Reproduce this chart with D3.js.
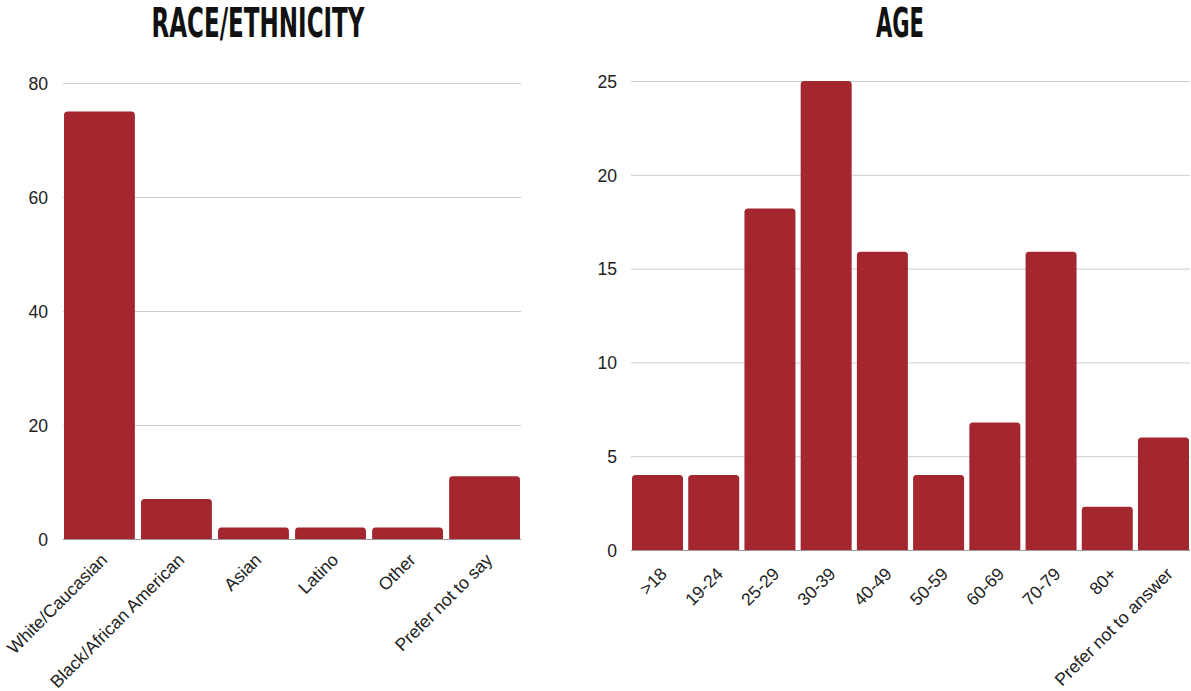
<!DOCTYPE html>
<html><head><meta charset="utf-8">
<script src="https://cdn.jsdelivr.net/npm/d3@7"></script>
<style>body{margin:0;background:#fff}svg{display:block}</style>
</head><body>
<script>
const raceCategories = ["White/Caucasian","Black/African American","Asian","Latino","Other","Prefer not to say"];
const raceValues = [75, 7, 2, 2, 2, 11];
const raceTicks = [0, 20, 40, 60, 80];

const ageCategories = [">18","19-24","25-29","30-39","40-49","50-59","60-69","70-79","80+","Prefer not to answer"];
const ageValues = [4, 4, 18.2, 25, 15.9, 4, 6.8, 15.9, 2.3, 6];
const ageTicks = [0, 5, 10, 15, 20, 25];

const W = 1191, H = 691;
const svg = d3.select("body").append("svg").attr("width", W).attr("height", H);
const barColor = "#a4262f";
const FS = 17.6;

function topRounded(x, y, w, h, r) {
  r = Math.min(r, h, w / 2);
  return `M${x},${y + h}V${y + r}Q${x},${y} ${x + r},${y}H${x + w - r}Q${x + w},${y} ${x + w},${y + r}V${y + h}Z`;
}

function chart(opts) {
  const g = svg.append("g");
  const x = d3.scaleBand().domain(opts.cats).range(opts.xr).paddingInner(opts.pad).paddingOuter(0);
  const y = d3.scaleLinear().domain([0, opts.max]).range(opts.yr);
  g.selectAll(".grid").data(opts.ticks.filter(t => t !== 0)).join("line")
    .attr("x1", opts.gx[0]).attr("x2", opts.gx[1])
    .attr("y1", d => y(d) + 0.5).attr("y2", d => y(d) + 0.5)
    .attr("stroke", "#cccccc").attr("stroke-width", 1);
  const yAxis = d3.axisLeft(y).tickValues(opts.ticks).tickSize(0).tickPadding(0);
  const ya = g.append("g").attr("transform", `translate(${opts.ylx},0)`).call(yAxis);
  ya.select(".domain").remove();
  ya.selectAll("text").attr("font-family", "Liberation Sans, Arial, sans-serif")
    .attr("font-size", FS).attr("fill", "#222").attr("dy", "0.36em");
  g.selectAll(".bar").data(opts.vals).join("path")
    .attr("fill", barColor)
    .attr("d", (d, i) => topRounded(x(opts.cats[i]), y(d), x.bandwidth(), y(0) - y(d), 3.5));
  g.append("line").attr("x1", opts.gx[0]).attr("x2", opts.gx[1])
    .attr("y1", y(0) + 0.5).attr("y2", y(0) + 0.5).attr("stroke", "#999").attr("stroke-width", 1);
  const xAxis = d3.axisBottom(x).tickSize(0).tickPadding(0);
  const xa = g.append("g").attr("transform", `translate(0,${y(0)})`).call(xAxis);
  xa.select(".domain").remove();
  xa.selectAll("text")
    .attr("font-family", "Liberation Sans, Arial, sans-serif")
    .attr("font-size", FS).attr("fill", "#222")
    .attr("text-anchor", "end").attr("dy", null).attr("y", null)
    .attr("transform", `translate(${opts.lx},${opts.ly}) rotate(-45)`);
  svg.append("text").text(opts.title)
    .attr("x", opts.tx).attr("y", 37).attr("text-anchor", "middle")
    .attr("font-family", "Liberation Sans Narrow, DejaVu Sans Condensed, sans-serif")
    .attr("font-weight", "bold").attr("font-size", 41).attr("fill", "#111")
    .attr("textLength", opts.tw).attr("lengthAdjust", "spacingAndGlyphs");
}

chart({cats: raceCategories, vals: raceValues, ticks: raceTicks, max: 80,
  xr: [64, 520], pad: 0.08, yr: [539, 83], gx: [63, 521], ylx: 48,
  lx: 9, ly: 22, title: "RACE/ETHNICITY", tx: 258, tw: 213});

chart({cats: ageCategories, vals: ageValues, ticks: ageTicks, max: 25,
  xr: [632, 1189], pad: 0.093, yr: [550, 81], gx: [631, 1190], ylx: 617,
  lx: 10.5, ly: 25, title: "AGE", tx: 900, tw: 48});
</script>
</body></html>
